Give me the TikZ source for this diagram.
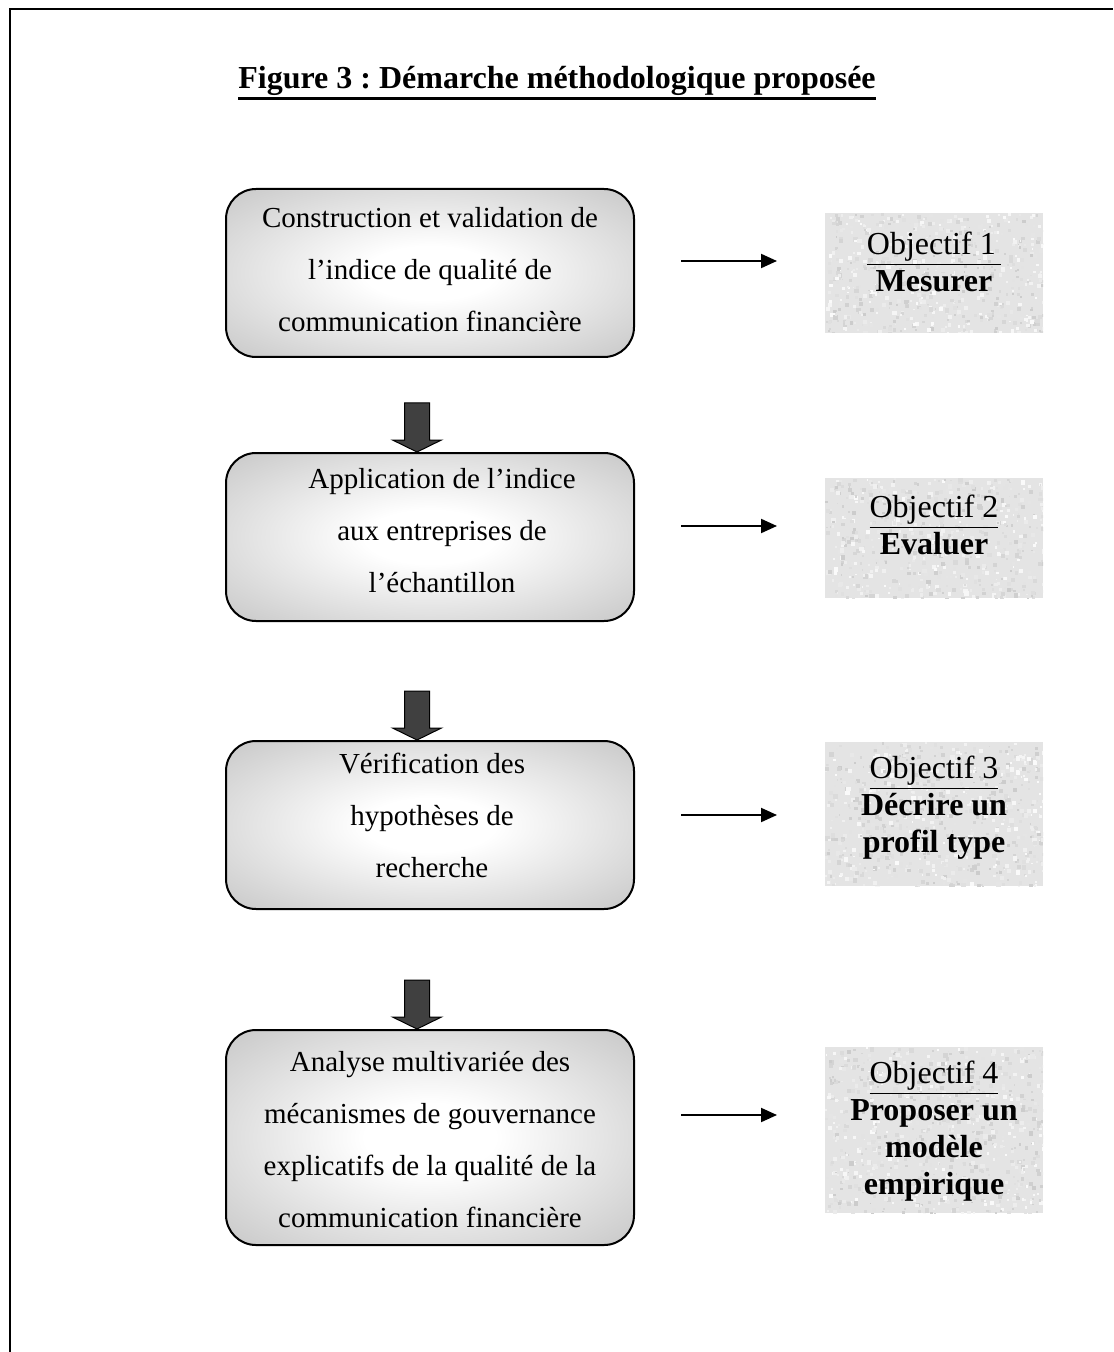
\documentclass[tikz,border=0pt]{standalone}
\usepackage{fontspec}
\setmainfont{Liberation Serif}
\usetikzlibrary{arrows.meta,calc}
\definecolor{objfill}{RGB}{228,228,228}
\definecolor{arrowgray}{RGB}{64,64,64}
\pgfdeclareradialshading{boxshade}{\pgfpoint{0bp}{0bp}}{color(0bp)=(white); color(8bp)=(white); color(50bp)=(black!33); color(100bp)=(black!33)}
\newcommand{\thickul}[3]{\leavevmode\vtop{\hbox{#3}\kern#2\hrule height #1}}
\frenchspacing
\begin{document}
\begin{tikzpicture}[x=0.5pt,y=-0.5pt,
  stepbox/.style={draw=black, line width=1pt, rounded corners=15pt, shading=boxshade,
    minimum width=204pt, inner sep=0pt},
  steptext/.style={align=center, inner sep=0pt, font=\fontsize{14.5}{26}\selectfont},
  objbox/.style={fill=objfill, minimum width=109pt, inner sep=0pt,
    path picture={
      \foreach \k in {1,...,900}{
        \pgfmathsetmacro{\rx}{rnd*218}\pgfmathsetmacro{\ry}{rnd*170}
        \pgfmathtruncatemacro{\rg}{80+rnd*19}\pgfmathsetmacro{\rs}{1.5+rnd*3}
        \fill[white!\rg!black] ([shift={(\rx,\ry)}]path picture bounding box.north west) rectangle +(\rs,\rs);
      }}},
  objtext/.style={align=center, inner sep=0pt, font=\fontsize{16}{18.5}\selectfont},
  thinarrow/.style={line width=1pt, -{Triangle[length=8pt,width=7pt]}},
  blockarrow/.style={fill=arrowgray, draw=black, line width=0.5pt, line join=miter}
]
\pgfmathsetseed{4242}
\useasboundingbox (0,0) rectangle (1113,1352);
\draw[line width=1pt] (9.5,1352) -- (9.5,9.5) -- (1113,9.5);

\node[anchor=base, font=\fontsize{16}{18}\selectfont\bfseries] (title) at (557,89)
  {\thickul{1.4pt}{0.6pt}{Figure 3 : Démarche méthodologique proposée}};

% step boxes
\node[stepbox, minimum height=84pt] (b1) at (430,273) {};
\node[stepbox, minimum height=84pt] (b2) at (430,537) {};
\node[stepbox, minimum height=84pt] (b3) at (430,825) {};
\node[stepbox, minimum height=107.5pt] (b4) at (430,1137.5) {};
\node[steptext] (t1) at (430,270)
  {Construction et validation de\\ l’indice de qualité de\\ communication financière};
\node[steptext] (t2) at (442,531)
  {Application de l’indice\\ aux entreprises de\\ l’échantillon};
\node[steptext] (t3) at (432,815)
  {Vérification des\\ hypothèses de\\ recherche};
\node[steptext] (t4) at (430,1140)
  {Analyse multivariée des\\ mécanismes de gouvernance\\ explicatifs de la qualité de la\\ communication financière};

% objective boxes
\node[objbox, minimum height=60pt, minimum width=109pt] (o1) at (934,273) {};
\node[objbox, minimum height=60pt] (o2) at (934,538) {};
\node[objbox, minimum height=72pt] (o3) at (934,814) {};
\node[objbox, minimum height=83pt] (o4) at (934,1130) {};
\node[objtext] (ot1) at (934,262) {\underline{Objectif 1\,}\\ \textbf{Mesurer}};
\node[objtext] (ot2) at (934,525) {\underline{Objectif 2}\\ \textbf{Evaluer}};
\node[objtext] (ot3) at (934,808) {\underline{Objectif 3}\\ \textbf{Décrire un}\\ \textbf{profil type}};
\node[objtext] (ot4) at (934,1131) {\underline{Objectif 4}\\ \textbf{Proposer un}\\ \textbf{modèle}\\ \textbf{empirique}};

% horizontal arrows
\coordinate (h1s) at (681,261); \coordinate (h1e) at (777,261);
\coordinate (h2s) at (681,526); \coordinate (h2e) at (777,526);
\coordinate (h3s) at (681,815); \coordinate (h3e) at (777,815);
\coordinate (h4s) at (681,1115); \coordinate (h4e) at (777,1115);
\draw[thinarrow] (h1s) -- (h1e);
\draw[thinarrow] (h2s) -- (h2e);
\draw[thinarrow] (h3s) -- (h3e);
\draw[thinarrow] (h4s) -- (h4e);

% block arrows
\foreach \b in {b2,b3,b4}{
  \draw[blockarrow] ([xshift=-6.5pt]\b.north) -- ++(-24.5,-12) -- ++(12,0) -- ++(0,-37)
    -- ++(25,0) -- ++(0,37) -- ++(12,0) -- cycle;
}
\end{tikzpicture}
\end{document}
